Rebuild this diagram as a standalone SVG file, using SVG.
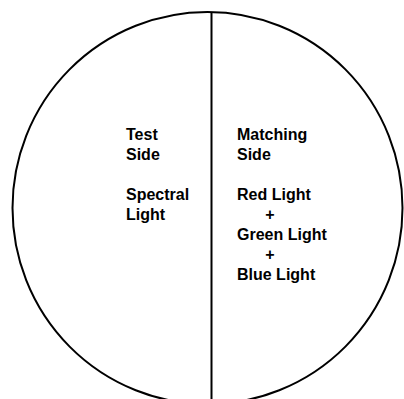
<svg xmlns="http://www.w3.org/2000/svg" width="404" height="399" viewBox="0 0 404 399">
  <style>
    .outline { fill: none; stroke: #000; stroke-width: 2; }
    .label { font-family: "Liberation Sans", Arial, sans-serif; font-size: 16px; font-weight: bold; fill: #000; }
  </style>
  <rect x="0" y="0" width="404" height="399" fill="#fff"/>
  <g id="field">
    <ellipse class="outline" cx="207.5" cy="208" rx="195" ry="196"/>
    <line class="outline" x1="211.5" y1="12" x2="211.5" y2="399"/>
  </g>
  <g id="test-side">
    <text class="label" x="126" y="140">Test</text>
    <text class="label" x="126" y="160">Side</text>
    <text class="label" x="126" y="200">Spectral</text>
    <text class="label" x="126" y="220">Light</text>
  </g>
  <g id="matching-side">
    <text class="label" x="237" y="140">Matching</text>
    <text class="label" x="237" y="160">Side</text>
    <text class="label" x="237" y="200">Red Light</text>
    <text class="label" x="270" y="220" text-anchor="middle">+</text>
    <text class="label" x="237" y="240">Green Light</text>
    <text class="label" x="270" y="260" text-anchor="middle">+</text>
    <text class="label" x="237" y="280">Blue Light</text>
  </g>
</svg>
